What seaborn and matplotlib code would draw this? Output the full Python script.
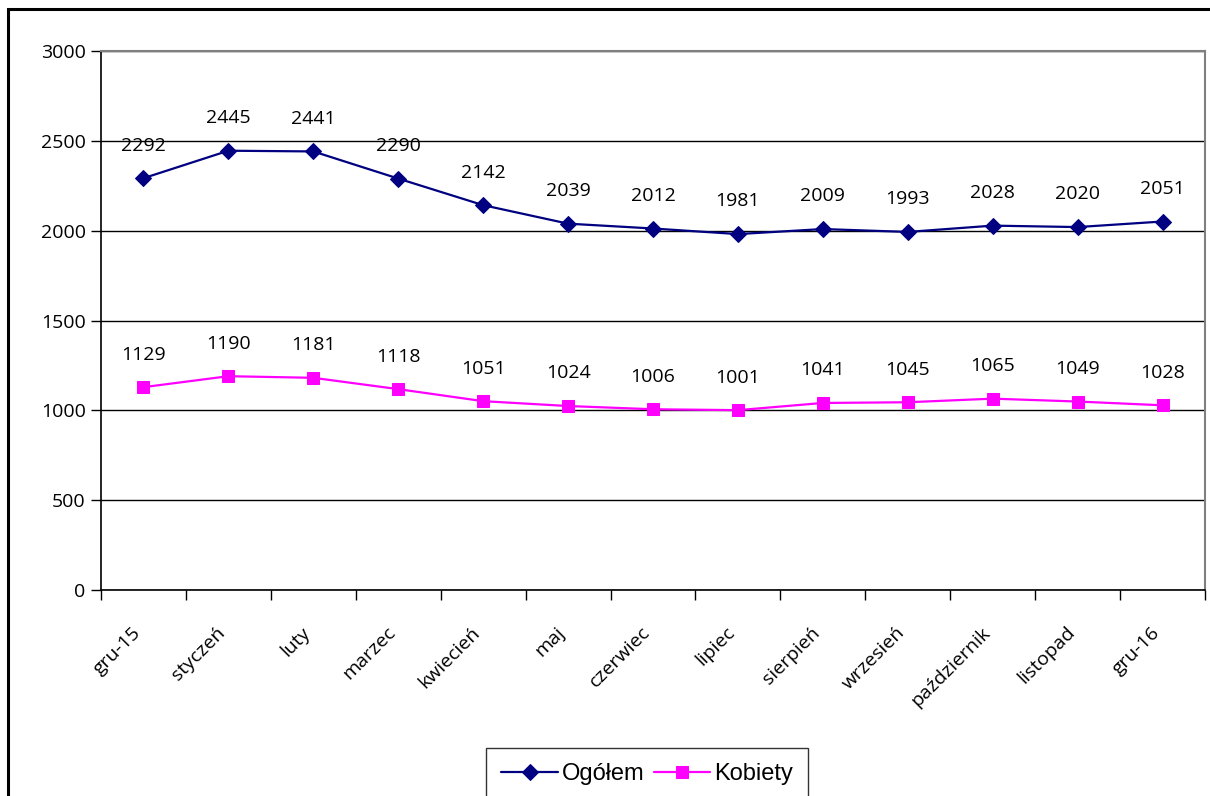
import pandas as pd
import numpy as np
import matplotlib.pyplot as plt
import matplotlib.transforms as mtrans
import seaborn as sns
from matplotlib.patches import Rectangle

# Data
months = ['gru-15', 'styczeń', 'luty', 'marzec', 'kwiecień', 'maj', 'czerwiec',
          'lipiec', 'sierpień', 'wrzesień', 'październik', 'listopad', 'gru-16']
ogolem = [2292, 2445, 2441, 2290, 2142, 2039, 2012, 1981, 2009, 1993, 2028, 2020, 2051]
kobiety = [1129, 1190, 1181, 1118, 1051, 1024, 1006, 1001, 1041, 1045, 1065, 1049, 1028]

df = pd.DataFrame({'pos': np.arange(len(months)), 'Ogółem': ogolem, 'Kobiety': kobiety})

sns.set_style('white')
plt.rcParams['font.family'] = ['Open Sans', 'DejaVu Sans']
plt.rcParams['text.color'] = 'black'
plt.rcParams['xtick.color'] = 'black'
plt.rcParams['ytick.color'] = 'black'
fs = 14

fig = plt.figure(figsize=(12.1, 7.96), dpi=100)
ax = fig.add_axes([101 / 1210, 1 - 590 / 796, (1205 - 101) / 1210, (590 - 51) / 796])

# outer chart border
fig.patches.append(Rectangle((8 / 1210, -0.05), 1.1, 1.05 - 9 / 796,
                             transform=fig.transFigure, fill=False,
                             edgecolor='black', linewidth=2.2, zorder=0))

sns.lineplot(data=df, x='pos', y='Ogółem', ax=ax, color='#000080', marker='D',
             markersize=8, markeredgecolor='#000080', linewidth=1.6, label='Ogółem')
sns.lineplot(data=df, x='pos', y='Kobiety', ax=ax, color='#FF00FF', marker='s',
             markersize=8, markeredgecolor='#FF00FF', linewidth=1.6, label='Kobiety')

for x, v in zip(df['pos'], ogolem):
    ax.annotate(str(v), (x, v), xytext=(0, 17), textcoords='offset points',
                ha='center', va='bottom', fontsize=fs)
for x, v in zip(df['pos'], kobiety):
    ax.annotate(str(v), (x, v), xytext=(0, 17), textcoords='offset points',
                ha='center', va='bottom', fontsize=fs)

ax.set_xlim(-0.5, len(months) - 0.5)
ax.set_ylim(0, 3000)
ax.set_yticks(np.arange(0, 3001, 500))
ax.tick_params(axis='y', labelsize=fs, length=7, width=1, direction='out', left=True, pad=4)

# tick marks between categories, labels at centres
ax.set_xticks(np.arange(-0.5, len(months), 1))
ax.set_xticklabels([])
ax.set_xticks(np.arange(len(months)), minor=True)
ax.set_xticklabels(months, minor=True, rotation=45, ha='right', rotation_mode='anchor',
                   fontsize=fs)
ax.tick_params(axis='x', which='major', length=7, width=1, direction='out', bottom=True)
ax.tick_params(axis='x', which='minor', length=0, pad=24)
shift = mtrans.ScaledTranslation(-12 / 100, 0, fig.dpi_scale_trans)
for lab in ax.get_xticklabels(minor=True):
    lab.set_transform(lab.get_transform() + shift)

ax.grid(axis='y', color='black', linewidth=1)
ax.set_xlabel('')
ax.set_ylabel('')
for s in ['left', 'bottom']:
    ax.spines[s].set_color('black')
    ax.spines[s].set_linewidth(1.2)
for s in ['top', 'right']:
    ax.spines[s].set_color('#808080')
    ax.spines[s].set_linewidth(1.5)
ax.set_axisbelow(True)

leg = ax.legend(loc='upper left', bbox_to_anchor=(486 / 1210, 1 - 748 / 796),
                bbox_transform=fig.transFigure, ncol=2, frameon=True, fancybox=False,
                prop={'family': 'Liberation Sans', 'size': 17}, handlelength=2.4,
                handletextpad=0.15, columnspacing=0.4, borderpad=0.65, borderaxespad=0)
leg.get_frame().set_edgecolor('black')
leg.get_frame().set_linewidth(1)

fig.savefig('out.png', dpi=100)
